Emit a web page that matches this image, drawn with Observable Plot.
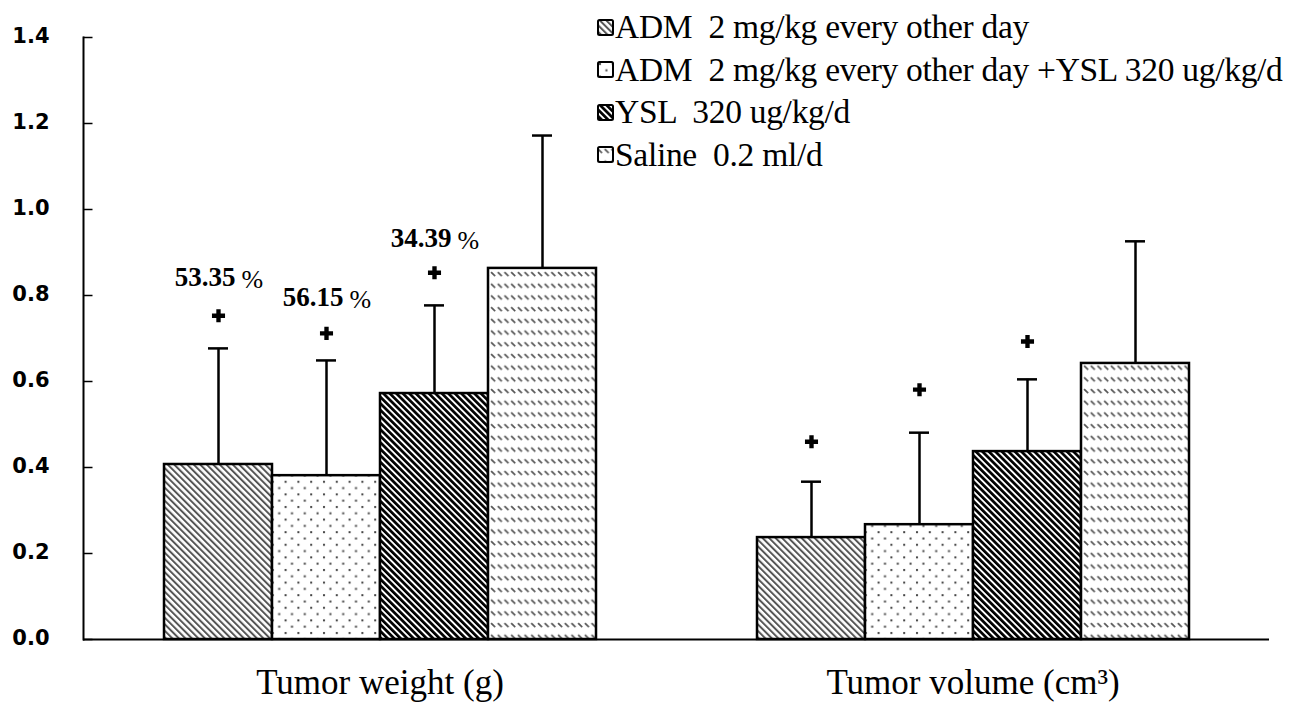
<!DOCTYPE html>
<html>
<head>
<meta charset="utf-8">
<script src="https://cdn.jsdelivr.net/npm/d3@7"></script>
<script src="https://cdn.jsdelivr.net/npm/@observablehq/plot@0.6"></script>
<style>
  html, body { margin: 0; padding: 0; background: #fff; }
  #wrap { position: relative; width: 1296px; height: 706px; }
  #legend { position: absolute; left: 597px; top: 6px; font-family: "Liberation Serif", serif; font-size: 33.5px; color: #000; }
  #legend .row { display: flex; align-items: center; height: 42.5px; white-space: pre; letter-spacing: -0.3px; }
  #legend svg { margin-right: 1px; }
</style>
</head>
<body>
<svg width="0" height="0" style="position:absolute">
  <defs>
    <pattern id="p1" patternUnits="userSpaceOnUse" width="4.6" height="10" patternTransform="rotate(-45)">
      <rect width="4.6" height="10" fill="#fff"/><rect width="2.0" height="10" fill="#555"/>
    </pattern>
    <pattern id="p2" patternUnits="userSpaceOnUse" width="12.8" height="12.6">
      <rect width="12.8" height="12.6" fill="#fff"/>
      <rect x="2" y="2" width="2" height="2" fill="#444"/>
      <rect x="8.4" y="8.3" width="2" height="2" fill="#444"/>
    </pattern>
    <pattern id="p3" patternUnits="userSpaceOnUse" width="4.6" height="10" patternTransform="rotate(-45)">
      <rect width="4.6" height="10" fill="#fff"/><rect width="2.7" height="10" fill="#000"/>
    </pattern>
    <pattern id="p4" patternUnits="userSpaceOnUse" width="6.7" height="11.7">
      <rect width="6.7" height="11.7" fill="#fff"/>
      <path d="M1,3 L5,7" stroke="#555" stroke-width="1.7"/>
    </pattern>
  </defs>
</svg>
<div id="wrap"><div id="legend"></div></div>
<script>
const categories = ["Tumor weight (g)", "Tumor volume (cm³)"];
const groups = [
  "ADM  2 mg/kg every other day",
  "ADM  2 mg/kg every other day +YSL 320 ug/kg/d",
  "YSL  320 ug/kg/d",
  "Saline  0.2 ml/d"
];
const patterns = ["url(#p1)", "url(#p2)", "url(#p3)", "url(#p4)"];
const weightMeans = [0.407, 0.381, 0.572, 0.863];
const weightErr   = [0.270, 0.268, 0.205, 0.309];
const volumeMeans = [0.237, 0.267, 0.437, 0.642];
const volumeErr   = [0.130, 0.214, 0.168, 0.284];
const weightStars = [0.753, 0.712, 0.853, null];
const volumeStars = [0.460, 0.581, 0.693, null];
const weightPct   = ["53.35", "56.15", "34.39", null];
const weightPctY  = [0.842, 0.795, 0.933, null];
const yTicks = [0, 0.2, 0.4, 0.6, 0.8, 1.0, 1.2, 1.4];

const rows = [];
groups.forEach((g, i) => {
  rows.push({category: categories[0], group: g, mean: weightMeans[i], err: weightErr[i], star: weightStars[i], pct: weightPct[i], pctY: weightPctY[i]});
  rows.push({category: categories[1], group: g, mean: volumeMeans[i], err: volumeErr[i], star: volumeStars[i], pct: null, pctY: null});
});
rows.forEach(d => d.top = d.mean + d.err);
const pctRows = rows.filter(d => d.pct != null);

const facetW = (1296 - 82 - 27) / 2;

const chart = Plot.plot({
  width: 1296, height: 706,
  marginLeft: 82, marginRight: 27, marginTop: 37, marginBottom: 67,
  style: {background: "transparent", color: "#000"},
  fx: {domain: categories, padding: 0, label: null},
  x: {domain: groups, paddingInner: 0, paddingOuter: 0.735, axis: null},
  y: {domain: [0, 1.4], label: null},
  color: {type: "ordinal", domain: groups, range: patterns},
  marks: [
    Plot.barY(rows, {fx: "category", x: "group", y: "mean", fill: "group", stroke: "#000", strokeWidth: 2.5}),
    Plot.ruleX(rows, {fx: "category", x: "group", y1: "mean", y2: "top", stroke: "#000", strokeWidth: 2.5}),
    Plot.tickY(rows, {fx: "category", x: "group", y: "top", insetLeft: 44, insetRight: 44, stroke: "#000", strokeWidth: 2.5}),
    Plot.dot(rows.filter(d => d.star != null), {fx: "category", x: "group", y: "star", symbol: "cross", r: 5.5, fill: "#000", stroke: null}),
    Plot.text(pctRows, {fx: "category", x: "group", y: "pctY", text: "pct", textAnchor: "end", dx: 17, fontFamily: "Liberation Serif", fontWeight: "bold", fontSize: 27, fill: "#000"}),
    Plot.text(pctRows, {fx: "category", x: "group", y: "pctY", text: () => "%", textAnchor: "start", dx: 23, dy: 2, fontFamily: "Liberation Serif", fontSize: 26, fill: "#000"}),
    Plot.ruleY([0], {stroke: "#000", strokeWidth: 2}),
    Plot.frame({anchor: "left", facetAnchor: "left", stroke: "#000", strokeWidth: 2}),
    Plot.tickY(yTicks, {y: d => d, facetAnchor: "left", insetRight: facetW - 10, stroke: "#000", strokeWidth: 1.5}),
    Plot.axisY(yTicks, {tickSize: 0, tickPadding: 34, dy: -1, tickFormat: d3.format(".1f"), fontFamily: "DejaVu Sans", fontWeight: "bold", fontSize: 21, label: null}),
    Plot.axisFx({anchor: "bottom", tickSize: 0, tickPadding: 30, fontFamily: "Liberation Serif", fontSize: 35, label: null})
  ]
});
document.getElementById("wrap").prepend(chart);

const legend = document.getElementById("legend");
groups.forEach((g, i) => {
  const row = document.createElement("div");
  row.className = "row";
  row.innerHTML = `<svg width="17" height="17"><rect x="1" y="1" width="15" height="15" rx="1.5" fill="${patterns[i]}" stroke="#000" stroke-width="2"/></svg><span>${g}</span>`;
  legend.appendChild(row);
});
</script>
</body>
</html>
